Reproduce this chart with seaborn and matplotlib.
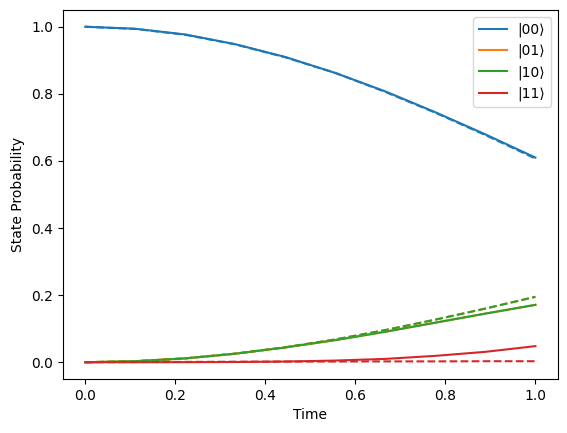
import pandas as pd
import matplotlib.pyplot as plt
import seaborn as sns
import numpy as np

# time grid and state probabilities
time = [0.0, 0.111, 0.222, 0.333, 0.444, 0.556, 0.667, 0.778, 0.889, 1.0]

p00 = [1.0, 0.994, 0.977, 0.948, 0.910, 0.862, 0.807, 0.745, 0.679, 0.610]
p01 = [0.0, 0.003, 0.0115, 0.0254, 0.044, 0.066, 0.091, 0.118, 0.145, 0.171]
p10 = [0.0, 0.003, 0.0115, 0.0254, 0.044, 0.066, 0.091, 0.118, 0.145, 0.171]
p11 = [0.0, 0.0, 0.0001, 0.0007, 0.002, 0.005, 0.010, 0.019, 0.031, 0.048]

p00_ideal = [1.0, 0.9935, 0.976, 0.9475, 0.909, 0.862, 0.8055, 0.7435, 0.677, 0.607]
p01_ideal = [0.0, 0.003, 0.0115, 0.0255, 0.0445, 0.068, 0.096, 0.127, 0.160, 0.195]
p10_ideal = [0.0, 0.003, 0.0115, 0.0255, 0.0445, 0.068, 0.096, 0.127, 0.160, 0.195]
p11_ideal = [0.0, 0.0005, 0.001, 0.0015, 0.002, 0.002, 0.0025, 0.0025, 0.003, 0.003]

labels = ['|00⟩', '|01⟩', '|10⟩', '|11⟩']
colors = ['#1f77b4', '#ff7f0e', '#2ca02c', '#d62728']

fig, ax = plt.subplots(figsize=(5.67, 4.33), dpi=100)
fig.subplots_adjust(left=0.1106, right=0.984, bottom=0.1247, top=0.977)

for vals, lab, c in zip([p00, p01, p10, p11], labels, colors):
    sns.lineplot(x=time, y=vals, ax=ax, color=c, label=lab, linewidth=1.5)

for vals, c in zip([p00_ideal, p01_ideal, p10_ideal, p11_ideal], colors):
    sns.lineplot(x=time, y=vals, ax=ax, color=c, linestyle='--', linewidth=1.5)

ax.set_xlabel('Time')
ax.set_ylabel('State Probability')
ax.legend(loc='upper right')

plt.savefig('out.png', dpi=100)
